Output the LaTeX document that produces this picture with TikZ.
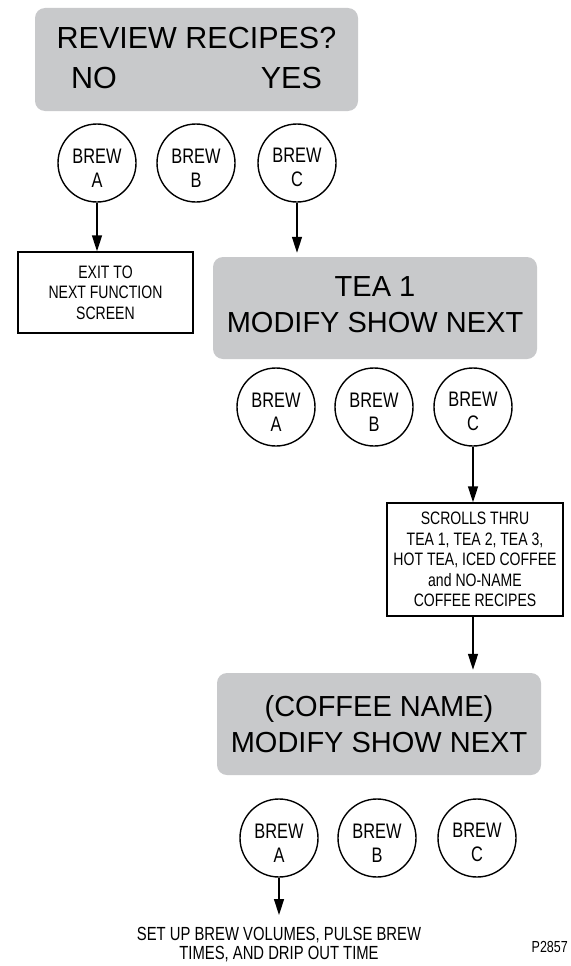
\documentclass[tikz,border=0pt]{standalone}
\usepackage{fontspec}
\setmainfont{Liberation Sans}
\newfontfamily\condf[FakeStretch=0.78]{Liberation Sans}
\usetikzlibrary{arrows.meta}
\definecolor{screengray}{RGB}{200,201,203}
\newcommand\brewtxt[1]{\rule{0pt}{24pt}BREW\\#1}
\tikzset{
  screen/.style={fill=screengray, rounded corners=10pt, inner sep=0pt, align=center,
    font=\fontsize{29}{36}\selectfont},
  btn/.style={circle, draw=black, line width=1.4pt, minimum size=78pt, inner sep=0pt,
    align=center, font=\condf\fontsize{21}{24}\selectfont},
  infobox/.style={draw=black, line width=1.4pt, inner sep=0pt, align=center,
    font=\condf\fontsize{18}{20.5}\selectfont},
  flow/.style={line width=1.4pt, -{Triangle[length=16pt,width=10pt]}},
}
\begin{document}
\begin{tikzpicture}[x=1pt,y=-1pt]
\useasboundingbox (0,0) rectangle (570,966);
% top screen
\node[screen, minimum width=323pt, minimum height=103pt, font=\fontsize{30.5}{40}\selectfont]
  (s1) at (196.5,59.5) {REVIEW RECIPES?\\NO\hspace{144pt}YES\rule[-4pt]{0pt}{0pt}};
\node[btn] (a1) at (97,163) {\brewtxt{A}};
\node[btn] (b1) at (196,163) {\brewtxt{B}};
\node[btn] (c1) at (297,163) {\brewtxt{C}};
\node[infobox, minimum width=175pt, minimum height=81pt] (exit) at (105.5,292.5)
  {EXIT TO\\NEXT FUNCTION\\SCREEN};
% second screen
\node[screen, minimum width=324pt, minimum height=102pt] (s2) at (375,308)
  {TEA 1\\MODIFY SHOW NEXT\rule[-6pt]{0pt}{0pt}};
\node[btn] (a2) at (276,407) {\brewtxt{A}};
\node[btn] (b2) at (374,407) {\brewtxt{B}};
\node[btn] (c2) at (473,407) {\brewtxt{C}};
\node[infobox, minimum width=176pt, minimum height=113pt] (scroll) at (475,559.5)
  {SCROLLS THRU\\TEA 1, TEA 2, TEA 3,\\HOT TEA, ICED COFFEE\\and NO-NAME\\COFFEE RECIPES};
% third screen
\node[screen, minimum width=324pt, minimum height=102pt] (s3) at (379,724)
  {(COFFEE NAME)\\MODIFY SHOW NEXT};
\node[btn] (a3) at (279,838) {\brewtxt{A}};
\node[btn] (b3) at (377,838) {\brewtxt{B}};
\node[btn] (c3) at (477,838) {\brewtxt{C}};
\node[align=center, inner sep=0pt, font=\condf\fontsize{19}{19}\selectfont, anchor=north]
  (setup) at (279,927) {SET UP BREW VOLUMES, PULSE BREW\\TIMES, AND DRIP OUT TIME};
\node[anchor=east, inner sep=0pt, font=\condf\fontsize{16}{16}\selectfont] (code) at (568,947) {P2857};
% connectors
\draw[flow] (a1.south) -- (exit.north -| a1.south);
\draw[flow, shorten >=4pt] (c1.south) -- (s2.north -| c1.south);
\draw[flow] (c2.south) -- (scroll.north -| c2.south);
\draw[flow, shorten >=3pt] (scroll.south -| c2.south) -- (s3.north -| c2.south);
\draw[flow, shorten >=12pt] (a3.south) -- (setup.north -| a3.south);
\end{tikzpicture}
\end{document}
